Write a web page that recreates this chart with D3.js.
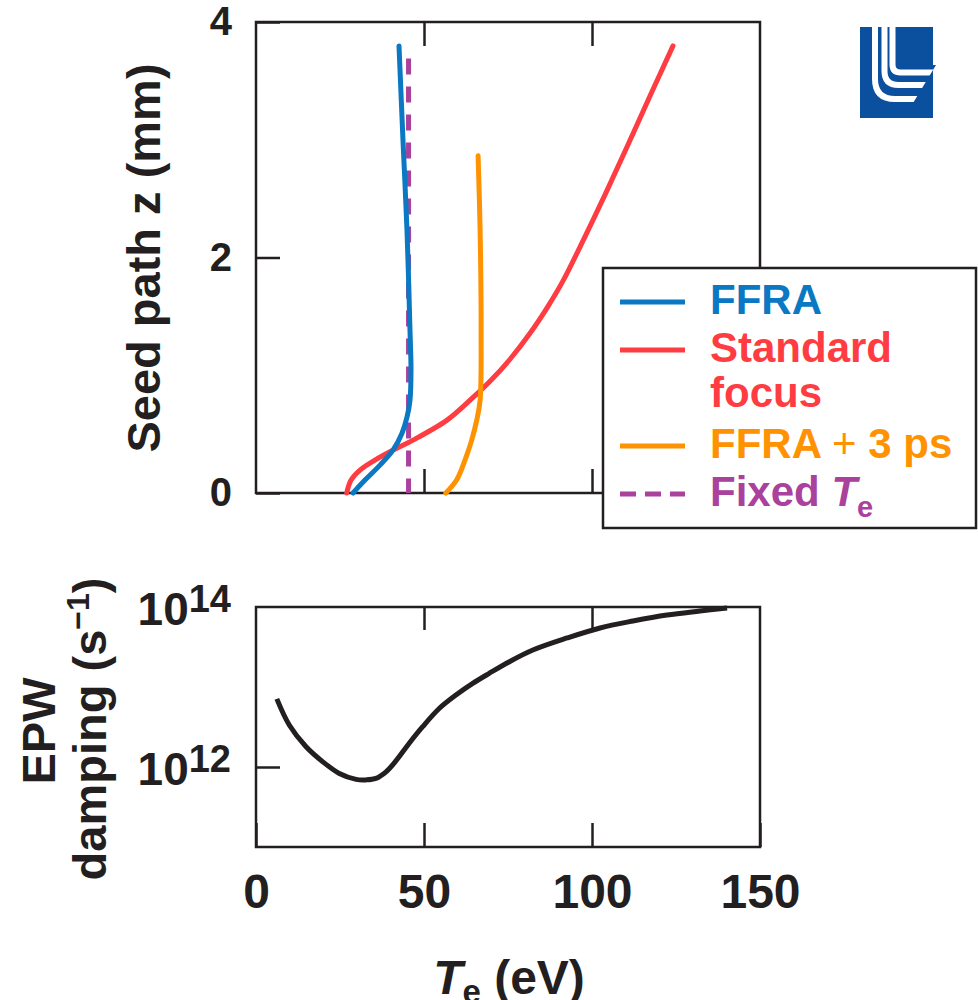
<!DOCTYPE html>
<html lang="en">
<head>
<meta charset="utf-8">
<title>Seed path and EPW damping vs Te</title>
<script src="https://d3js.org/d3.v7.min.js"></script>
<style>
  body { margin: 0; background: #fff; }
  text { font-family: "Liberation Sans", Arial, Helvetica, sans-serif; font-weight: bold; }
</style>
</head>
<body>
<script>
var w = 978, h = 1000;

// tick values
var xTicks = [0, 50, 100, 150];
var zTicks = [0, 2, 4];
var dampTicks = [1e12, 1e14];

// seed path z (mm) against Te (eV)
var ffraT = [28.87, 32.44, 36.9, 40.77, 43.45, 44.94, 45.83, 46.13, 45.83, 44.94, 43.75, 42.56];
var ffraZ = [0, 0.11, 0.237, 0.364, 0.508, 0.644, 0.788, 1.042, 1.381, 2.229, 2.992, 3.797];

var stdT = [26.99, 28.3, 30.95, 35.42, 40.77, 46.73, 56.85, 63.69, 69.64, 75.6, 81.55, 86.9,
            91.37, 97.92, 104.17, 110.71, 117.56, 124.11];
var stdZ = [0, 0.11, 0.195, 0.28, 0.364, 0.449, 0.619, 0.788, 0.949, 1.136, 1.356, 1.585,
            1.801, 2.178, 2.551, 2.958, 3.39, 3.797];

var lateT = [56.5, 59.7, 62.2, 64.2, 65.7, 66.7, 67.0, 66.7, 66.1];
var lateZ = [0, 0.11, 0.28, 0.449, 0.619, 0.788, 1.381, 2.229, 2.864];

var fixedT = [45.4, 45.4];
var fixedZ = [3.69, 0];

// EPW damping (s^-1) against Te (eV)
var epwT = [6.2, 9.9, 14.9, 19.9, 24.8, 29.8, 32.7, 35.7, 38.7, 41.7, 45.6, 49.6, 54.6, 59.5,
            64.5, 69.4, 75.4, 82.4, 92.6, 102.4, 112.2, 122.3, 132.1, 140.2];
var epwD = [7.1e12, 3.35e12, 1.79e12, 1.16e12, 8.3e11, 7.0e11, 6.9e11, 7.2e11, 8.7e11, 1.2e12,
            1.98e12, 3.19e12, 5.42e12, 7.94e12, 1.11e13, 1.48e13, 2.07e13, 2.9e13, 4.1e13,
            5.47e13, 6.68e13, 7.94e13, 8.91e13, 9.72e13];

var seriesNames = ["FFRA", "Standard", "FFRA + 3 ps", "Fixed"];
var seriesColors = ["#0a78c2", "#ff3c41", "#ff9200", "#a9419d"];

var ink = "#231f20";

var svg = d3.select("body").append("svg")
  .attr("width", w)
  .attr("height", h);

var x = d3.scaleLinear().domain([0, 150]).range([256, 760]);
var yTop = d3.scaleLinear().domain([0, 4]).range([493, 22]);
var yBot = d3.scaleLog().domain([1e11, 1e14]).range([847, 607]);

function zip(a, b) { return a.map(function(v, i) { return [v, b[i]]; }); }

// ---------- top panel ----------
svg.append("rect")
  .attr("x", x(0)).attr("y", yTop(4))
  .attr("width", x(150) - x(0)).attr("height", yTop(0) - yTop(4))
  .attr("fill", "none").attr("stroke", ink).attr("stroke-width", 2.5);

function noDomain(g) { g.select(".domain").remove(); g.attr("color", ink); g.selectAll("line").attr("stroke-width", 2.5); }

svg.append("g").attr("transform", "translate(0," + yTop(0) + ")")
  .call(d3.axisBottom(x).tickValues([50, 100]).tickSize(-24).tickFormat(""))
  .call(noDomain);
svg.append("g").attr("transform", "translate(0," + yTop(4) + ")")
  .call(d3.axisTop(x).tickValues([50, 100]).tickSize(-24).tickFormat(""))
  .call(noDomain);
svg.append("g").attr("transform", "translate(" + x(0) + ",0)")
  .call(d3.axisLeft(yTop).tickValues(zTicks).tickSize(-24).tickPadding(24).tickFormat(d3.format("d")))
  .call(noDomain)
  .attr("font-size", 40);

var lineTop = d3.line()
  .x(function(d) { return x(d[0]); })
  .y(function(d) { return yTop(d[1]); })
  .curve(d3.curveCatmullRom.alpha(0.5));

var topSeries = [zip(ffraT, ffraZ), zip(stdT, stdZ), zip(lateT, lateZ)];
var drawOrder = [1, 2, 0];

svg.append("path")
  .attr("d", d3.line().x(function(d) { return x(d[0]); }).y(function(d) { return yTop(d[1]); })(zip(fixedT, fixedZ)))
  .attr("fill", "none").attr("stroke", seriesColors[3]).attr("stroke-width", 5)
  .attr("stroke-dasharray", "16,12");

drawOrder.forEach(function(i) {
  svg.append("path")
    .attr("d", lineTop(topSeries[i]))
    .attr("fill", "none")
    .attr("stroke", seriesColors[i])
    .attr("stroke-width", 5)
    .attr("stroke-linecap", "round");
});

// ---------- legend ----------
var leg = svg.append("g");
leg.append("rect")
  .attr("x", 603).attr("y", 268).attr("width", 373).attr("height", 260)
  .attr("fill", "#fff").attr("stroke", ink).attr("stroke-width", 2.5);

var legRows = [0, 1, 3, 4];
seriesNames.forEach(function(name, i) {
  var by = 314 + legRows[i] * 48;
  var ln = leg.append("line")
    .attr("x1", 620).attr("x2", 685)
    .attr("y1", by - 12).attr("y2", by - 12)
    .attr("stroke", seriesColors[i]).attr("stroke-width", 5);
  if (i === 3) ln.attr("stroke-dasharray", "16,9");
  var t = leg.append("text")
    .attr("x", 710).attr("y", by)
    .attr("font-size", 42)
    .attr("fill", seriesColors[i]);
  if (i === 3) {
    t.append("tspan").text("Fixed ");
    t.append("tspan").attr("font-style", "italic").text("T");
    t.append("tspan").attr("font-size", 29).attr("dy", 11).text("e");
  } else if (i === 2) {
    t.append("tspan").text("FFRA ");
    t.append("tspan").style("font-weight", "normal").text("+");
    t.append("tspan").text(" 3 ps");
  } else {
    t.text(name);
  }
  if (i === 1) {
    leg.append("text").attr("x", 710).attr("y", by + 45)
      .attr("font-size", 42).attr("fill", seriesColors[i]).text("focus");
  }
});

svg.append("text")
  .attr("transform", "translate(160,258) rotate(-90)")
  .attr("text-anchor", "middle")
  .attr("font-size", 47)
  .attr("fill", ink)
  .text("Seed path z (mm)");

// ---------- bottom panel ----------
svg.append("rect")
  .attr("x", x(0)).attr("y", yBot(1e14))
  .attr("width", x(150) - x(0)).attr("height", yBot(1e11) - yBot(1e14))
  .attr("fill", "none").attr("stroke", ink).attr("stroke-width", 2.5);

svg.append("g").attr("transform", "translate(0," + yBot(1e11) + ")")
  .call(d3.axisBottom(x).tickValues(xTicks).tickSize(-24).tickPadding(27).tickFormat(d3.format("d")))
  .call(noDomain)
  .attr("font-size", 48);
svg.append("g").attr("transform", "translate(0," + yBot(1e14) + ")")
  .call(d3.axisTop(x).tickValues([50, 100]).tickSize(-23).tickFormat(""))
  .call(noDomain);
svg.append("g").attr("transform", "translate(" + x(0) + ",0)")
  .call(d3.axisLeft(yBot).tickValues([1e12]).tickSize(-24).tickFormat(""))
  .call(noDomain);

dampTicks.forEach(function(d) {
  var t = svg.append("text")
    .attr("x", 231).attr("y", yBot(d) + 18)
    .attr("text-anchor", "end")
    .attr("fill", ink)
    .attr("font-size", 46);
  t.append("tspan").text("10");
  t.append("tspan").attr("font-size", 38).attr("dy", -13).text(String(Math.round(Math.log10(d))));
});

svg.append("path")
  .attr("d", d3.line()
    .x(function(d) { return x(d[0]); })
    .y(function(d) { return yBot(d[1]); })
    .curve(d3.curveCatmullRom.alpha(0.5))(zip(epwT, epwD)))
  .attr("fill", "none").attr("stroke", ink).attr("stroke-width", 5);

svg.append("text")
  .attr("transform", "translate(55,731) rotate(-90)")
  .attr("text-anchor", "middle").attr("font-size", 47).attr("fill", ink)
  .text("EPW");
var dl = svg.append("text")
  .attr("transform", "translate(106,729) rotate(-90)")
  .attr("text-anchor", "middle").attr("font-size", 47).attr("fill", ink);
dl.append("tspan").text("damping (s");
dl.append("tspan").attr("font-size", 32).attr("dy", -17).text("\u22121");
dl.append("tspan").attr("dy", 17).text(")");

var xl = svg.append("text")
  .attr("x", 509).attr("y", 994)
  .attr("text-anchor", "middle").attr("font-size", 48).attr("fill", ink);
xl.append("tspan").attr("font-style", "italic").text("T");
xl.append("tspan").attr("font-size", 33).attr("dy", 9).text("e");
xl.append("tspan").attr("dy", -9).text(" (eV)");

// ---------- logo ----------
var logo = svg.append("g").attr("transform", "translate(860,27)");
var logoBlue = "#0b4f9f";
logo.append("rect").attr("width", 73).attr("height", 91).attr("fill", logoBlue);
[[32.5, 45.5, 8], [24.5, 58, 14], [15, 72, 20]].forEach(function(s) {
  logo.append("path")
    .attr("d", "M" + s[0] + ",0V" + (s[1] - s[2]) + "Q" + s[0] + "," + s[1] + " " + (s[0] + s[2]) + "," + s[1] + "H73")
    .attr("fill", "none").attr("stroke", "#fff").attr("stroke-width", 6);
});
logo.append("polygon")
  .attr("points", "76,38 44,91 73,91 73,38")
  .attr("fill", logoBlue);
</script>
</body>
</html>
